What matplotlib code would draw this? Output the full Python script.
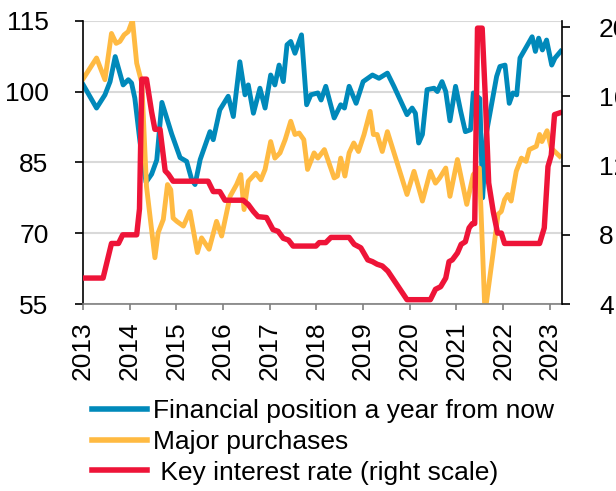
import numpy as np
import matplotlib.pyplot as plt
from matplotlib.lines import Line2D

plt.rcParams.update({
    "font.family": ["Liberation Sans", "DejaVu Sans"],
    "font.size": 19,
})

# Financial position a year from now (left scale)
fin_t = [2013.00, 2013.29, 2013.47, 2013.58, 2013.69, 2013.86, 2013.97, 2014.04, 2014.11,
         2014.22, 2014.35, 2014.47, 2014.58, 2014.69, 2014.90, 2015.08, 2015.22, 2015.33,
         2015.40, 2015.51, 2015.72, 2015.79, 2015.93, 2016.11, 2016.22, 2016.36, 2016.47,
         2016.54, 2016.65, 2016.79, 2016.90, 2017.02, 2017.11, 2017.20, 2017.29, 2017.37,
         2017.45, 2017.54, 2017.68, 2017.79, 2017.88, 2018.03, 2018.10, 2018.20, 2018.38,
         2018.52, 2018.60, 2018.70, 2018.85, 2019.00, 2019.10, 2019.20, 2019.34, 2019.52,
         2019.66, 2019.94, 2020.05, 2020.12, 2020.19, 2020.27, 2020.37, 2020.52, 2020.59,
         2020.69, 2020.77, 2020.86, 2020.98, 2021.09, 2021.19, 2021.30, 2021.36, 2021.50,
         2021.56, 2021.64, 2021.86, 2021.93, 2022.04, 2022.13, 2022.21, 2022.29, 2022.36,
         2022.54, 2022.62, 2022.69, 2022.76, 2022.84, 2022.93, 2023.04, 2023.11, 2023.23]
fin_v = [101.5, 96.5, 99.3, 102.1, 107.4, 101.4, 102.5, 101.8, 98.6,
         89.4, 80.8, 82.5, 85.5, 97.7, 91.0, 86.0, 85.2, 81.3,
         80.3, 85.6, 91.5, 89.8, 96.1, 99.0, 94.7, 106.3, 99.3,
         101.4, 95.4, 100.7, 96.5, 103.5, 101.4, 105.6, 102.1, 109.9,
         110.6, 108.1, 112.0, 97.2, 99.3, 99.7, 98.2, 101.1, 94.4,
         97.2, 96.5, 101.1, 97.5, 102.1, 102.8, 103.5, 102.8, 103.9,
         101.1, 95.1, 96.5, 95.4, 89.1, 90.9, 100.4, 100.7, 100.0,
         102.1, 100.0, 93.8, 101.1, 95.8, 91.5, 91.9, 99.7, 98.5,
         77.5, 91.2, 103.2, 105.3, 105.6, 97.5, 99.7, 99.3, 107.1,
         110.2, 111.6, 108.5, 111.3, 108.8, 110.9, 105.6, 107.1, 108.5]

# Major purchases (left scale)
buy_t = [2013.01, 2013.29, 2013.47, 2013.61, 2013.71, 2013.79, 2013.88, 2013.97, 2014.06,
         2014.15, 2014.26, 2014.36, 2014.54, 2014.61, 2014.72, 2014.81, 2014.88, 2014.93,
         2015.01, 2015.15, 2015.29, 2015.45, 2015.54, 2015.70, 2015.86, 2015.97, 2016.15,
         2016.29, 2016.38, 2016.45, 2016.54, 2016.70, 2016.81, 2016.90, 2017.02, 2017.11,
         2017.22, 2017.33, 2017.45, 2017.54, 2017.63, 2017.73, 2017.81, 2017.95, 2018.03,
         2018.17, 2018.38, 2018.45, 2018.52, 2018.61, 2018.70, 2018.80, 2018.90, 2019.02,
         2019.15, 2019.22, 2019.30, 2019.41, 2019.52, 2019.94, 2020.09, 2020.27, 2020.44,
         2020.55, 2020.64, 2020.77, 2020.86, 2021.02, 2021.22, 2021.36, 2021.49, 2021.61,
         2021.78, 2021.89, 2021.96, 2022.03, 2022.10, 2022.17, 2022.28, 2022.39, 2022.49,
         2022.56, 2022.71, 2022.78, 2022.83, 2022.94, 2023.03, 2023.21]
buy_v = [102.8, 107.1, 102.5, 112.3, 110.2, 110.6, 112.0, 112.7, 115.1,
         106.0, 101.8, 79.9, 64.8, 70.1, 72.9, 80.3, 79.2, 73.2,
         72.5, 71.5, 74.6, 65.9, 69.0, 66.6, 72.5, 69.4, 77.8,
         80.3, 82.4, 75.0, 81.0, 82.7, 81.3, 83.5, 89.4, 85.9,
         87.0, 89.8, 93.7, 90.9, 91.2, 89.8, 83.5, 87.0, 85.9,
         87.7, 81.7, 82.1, 85.9, 82.1, 87.0, 89.1, 87.3, 90.9,
         95.8, 90.9, 90.9, 87.3, 91.5, 78.2, 83.1, 76.8, 83.1,
         80.6, 81.7, 83.8, 77.8, 85.6, 76.1, 82.4, 83.8, 53.0,
         65.5, 74.0, 74.6, 77.1, 78.2, 76.8, 83.1, 85.9, 85.2,
         87.7, 88.4, 90.9, 89.4, 91.7, 88.0, 86.3]

# Key interest rate, % (right scale)
rate_t = [2013.00, 2013.43, 2013.61, 2013.76, 2013.85, 2014.15, 2014.21, 2014.26, 2014.36,
          2014.47, 2014.54, 2014.65, 2014.76, 2014.83, 2014.93, 2015.68, 2015.79, 2015.93,
          2016.04, 2016.43, 2016.54, 2016.65, 2016.75, 2016.93, 2017.07, 2017.18, 2017.29,
          2017.40, 2017.50, 2017.99, 2018.06, 2018.20, 2018.31, 2018.70, 2018.81, 2018.95,
          2019.10, 2019.20, 2019.30, 2019.41, 2019.53, 2019.94, 2020.44, 2020.55, 2020.66,
          2020.77, 2020.84, 2020.91, 2021.02, 2021.10, 2021.19, 2021.27, 2021.34, 2021.39,
          2021.45, 2021.55, 2021.62, 2021.69, 2021.79, 2021.88, 2021.96, 2022.03, 2022.78,
          2022.88, 2022.96, 2023.03, 2023.10, 2023.21]
rate_v = [5.5, 5.5, 7.5, 7.5, 8.0, 8.0, 9.5, 17.0, 17.0,
          15.1, 14.1, 14.1, 11.7, 11.5, 11.1, 11.1, 10.5, 10.5,
          10.0, 10.0, 9.75, 9.35, 9.05, 9.0, 8.3, 8.2, 7.8,
          7.7, 7.35, 7.35, 7.55, 7.55, 7.85, 7.85, 7.45, 7.25,
          6.55, 6.45, 6.3, 6.2, 5.9, 4.25, 4.25, 4.85, 5.0,
          5.5, 6.45, 6.55, 6.95, 7.45, 7.6, 8.4, 8.65, 8.65,
          19.95, 19.95, 15.8, 11.0, 9.3, 8.1, 8.1, 7.5, 7.5,
          8.4, 11.95, 12.6, 14.95, 15.05]

years = list(range(2013, 2024))

c_fin = "#0089BA"
c_buy = "#FFBA42"
c_rate = "#EE1438"

fig = plt.figure(figsize=(6.16, 4.91), dpi=100)
ax = fig.add_axes([83 / 616, 1 - 304 / 491, (562 - 83) / 616, (304 - 20.7) / 491])

ax.plot(fin_t, fin_v, color=c_fin, lw=3.5, solid_joinstyle="round")
ax.plot(buy_t, buy_v, color=c_buy, lw=3.5, solid_joinstyle="round")
ax.set_xlim(2013, 2023.26)
ax.set_ylim(55, 115)
ax.set_yticks([55, 70, 85, 100, 115])
ax.set_xticks(years)
ax.set_xticklabels([str(y) for y in years], rotation=90)
ax.yaxis.grid(True, color="#d9d9d9", lw=1.5)
ax.set_axisbelow(True)

for s in ["top", "right"]:
    ax.spines[s].set_visible(False)
ax.spines["left"].set_linewidth(1.2)
ax.spines["bottom"].set_color("#808080")
ax.spines["bottom"].set_linewidth(1.2)
ax.tick_params(axis="y", length=5.8, width=1.2, pad=19, labelsize=19)
ax.tick_params(axis="x", length=4.5, width=1.2, color="#808080", pad=8, labelsize=19)

ax2 = ax.twinx()
ax2.plot(rate_t, rate_v, color=c_rate, lw=3.9, solid_joinstyle="round")
ax2.set_ylim(4, 20.38)
ax2.set_yticks([4, 8, 12, 16, 20])
for s in ["top", "left", "bottom"]:
    ax2.spines[s].set_visible(False)
ax2.spines["right"].set_linewidth(1.2)
ax2.tick_params(axis="y", length=5.6, width=1.2, pad=21, labelsize=19)

handles = [Line2D([], [], color=c_fin, lw=4.0),
           Line2D([], [], color=c_buy, lw=4.0),
           Line2D([], [], color=c_rate, lw=4.0)]
labels = ["Financial position a year from now",
          "Major purchases",
          " Key interest rate (right scale)"]
fig.legend(handles, labels, loc="upper left", bbox_to_anchor=(92 / 616, 1 - 399 / 491),
           frameon=False, fontsize=19, handlelength=2.1, handletextpad=0.2,
           labelspacing=0.26, borderpad=0, borderaxespad=0)

fig.savefig("out.png", dpi=100)
